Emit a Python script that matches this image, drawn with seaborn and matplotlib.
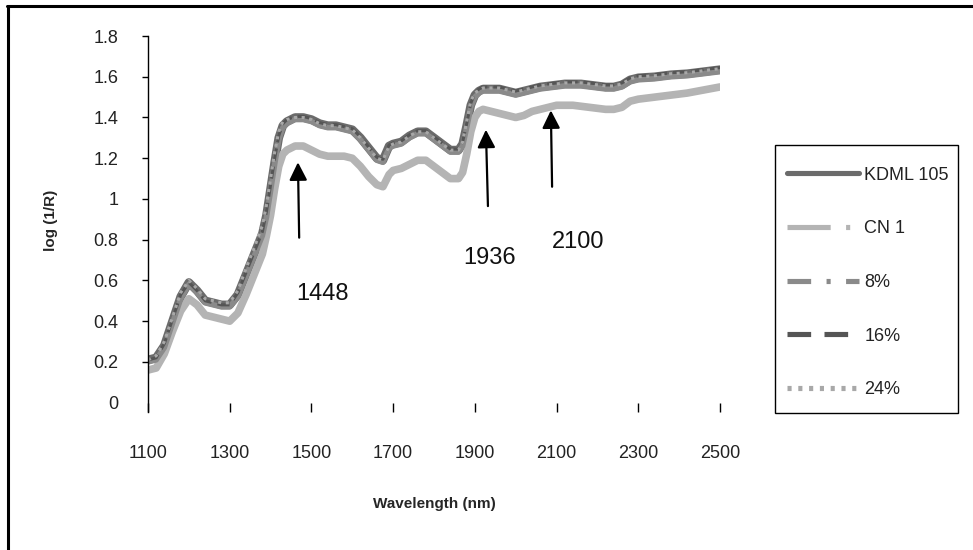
"""
NIR spectra of rice samples: log(1/R) against wavelength, pure varieties and mixtures.
"""
import numpy as np
import pandas as pd
import matplotlib
matplotlib.use("Agg")
import matplotlib.pyplot as plt
from matplotlib.lines import Line2D
from matplotlib.patches import Rectangle
import seaborn as sns

# wavelength grid (nm)
wavelength = [1100, 1120, 1140, 1160, 1180, 1200, 1220, 1240, 1260, 1280,
              1300, 1320, 1340, 1360, 1380, 1390, 1400, 1410, 1420, 1430,
              1440, 1460, 1480, 1500, 1520, 1540, 1560, 1580, 1600, 1620,
              1640, 1660, 1675, 1690, 1700, 1720, 1740, 1760, 1780, 1800,
              1820, 1840, 1860, 1870, 1880, 1890, 1900, 1910, 1920, 1940,
              1960, 1980, 2000, 2020, 2040, 2060, 2080, 2100, 2120, 2140,
              2160, 2180, 2200, 2220, 2240, 2260, 2280, 2300, 2340, 2380,
              2420, 2460, 2500]

kdml105 = [0.21, 0.22, 0.28, 0.40, 0.52, 0.59, 0.55, 0.50, 0.49, 0.48,
           0.48, 0.53, 0.63, 0.73, 0.83, 0.92, 1.05, 1.18, 1.30, 1.36,
           1.38, 1.40, 1.40, 1.39, 1.37, 1.36, 1.36, 1.35, 1.34, 1.30,
           1.25, 1.20, 1.19, 1.26, 1.27, 1.28, 1.31, 1.33, 1.33, 1.30,
           1.27, 1.24, 1.24, 1.27, 1.36, 1.46, 1.51, 1.53, 1.54, 1.54,
           1.54, 1.53, 1.52, 1.53, 1.54, 1.55, 1.555, 1.56, 1.565, 1.565,
           1.565, 1.56, 1.555, 1.55, 1.55, 1.56, 1.585, 1.595, 1.60, 1.61,
           1.615, 1.625, 1.635]

cn1 = [0.16, 0.17, 0.24, 0.35, 0.45, 0.51, 0.48, 0.43, 0.42, 0.41,
       0.40, 0.44, 0.53, 0.63, 0.73, 0.82, 0.92, 1.05, 1.16, 1.22,
       1.24, 1.26, 1.26, 1.24, 1.22, 1.21, 1.21, 1.21, 1.20, 1.16,
       1.11, 1.07, 1.06, 1.12, 1.14, 1.15, 1.17, 1.19, 1.19, 1.16,
       1.13, 1.10, 1.10, 1.13, 1.22, 1.33, 1.40, 1.43, 1.44, 1.43,
       1.42, 1.41, 1.40, 1.41, 1.43, 1.44, 1.45, 1.46, 1.46, 1.46,
       1.455, 1.45, 1.445, 1.44, 1.44, 1.45, 1.48, 1.49, 1.50, 1.51,
       1.52, 1.535, 1.55]

mix8 = [0.20, 0.21, 0.27, 0.39, 0.51, 0.58, 0.54, 0.49, 0.48, 0.47,
        0.47, 0.52, 0.62, 0.72, 0.82, 0.91, 1.04, 1.17, 1.29, 1.35,
        1.37, 1.39, 1.39, 1.38, 1.36, 1.35, 1.35, 1.34, 1.33, 1.29,
        1.24, 1.19, 1.18, 1.25, 1.26, 1.27, 1.30, 1.32, 1.32, 1.29,
        1.26, 1.23, 1.23, 1.26, 1.35, 1.45, 1.50, 1.52, 1.53, 1.53,
        1.53, 1.52, 1.51, 1.52, 1.53, 1.54, 1.545, 1.55, 1.555, 1.555,
        1.555, 1.55, 1.545, 1.54, 1.54, 1.55, 1.575, 1.585, 1.59, 1.60,
        1.605, 1.615, 1.625]

mix16 = [0.21, 0.22, 0.29, 0.41, 0.53, 0.59, 0.55, 0.50, 0.49, 0.48,
         0.48, 0.54, 0.64, 0.74, 0.84, 0.94, 1.07, 1.20, 1.31, 1.37,
         1.39, 1.405, 1.405, 1.395, 1.375, 1.365, 1.365, 1.355, 1.345, 1.305,
         1.255, 1.205, 1.195, 1.265, 1.275, 1.285, 1.315, 1.335, 1.335, 1.305,
         1.275, 1.245, 1.245, 1.28, 1.37, 1.47, 1.52, 1.54, 1.55, 1.55,
         1.55, 1.54, 1.53, 1.54, 1.55, 1.56, 1.565, 1.57, 1.575, 1.575,
         1.575, 1.57, 1.565, 1.56, 1.56, 1.57, 1.595, 1.605, 1.61, 1.62,
         1.625, 1.635, 1.645]

mix24 = [0.21, 0.23, 0.30, 0.42, 0.54, 0.60, 0.56, 0.51, 0.50, 0.49,
         0.49, 0.55, 0.66, 0.76, 0.87, 0.97, 1.10, 1.23, 1.33, 1.38,
         1.39, 1.40, 1.40, 1.39, 1.37, 1.36, 1.36, 1.35, 1.34, 1.30,
         1.25, 1.20, 1.19, 1.26, 1.27, 1.28, 1.31, 1.33, 1.33, 1.30,
         1.27, 1.24, 1.24, 1.28, 1.38, 1.48, 1.52, 1.535, 1.545, 1.545,
         1.545, 1.535, 1.525, 1.535, 1.545, 1.555, 1.56, 1.565, 1.57, 1.57,
         1.57, 1.565, 1.56, 1.555, 1.555, 1.565, 1.59, 1.60, 1.605, 1.615,
         1.62, 1.63, 1.64]

series_names = ["KDML 105", "CN 1", "8%", "16%", "24%"]
series_values = [kdml105, cn1, mix8, mix16, mix24]
series_colors = ["#6b6b6b", "#b4b4b4", "#8a8a8a", "#555555", "#a8a8a8"]
# in the chart the dense data make most patterns look solid
plot_styles = ["-", "-", "-", (0, (4, 2)), (0, (1, 1.5))]
plot_widths = [6.2, 5.5, 4.0, 2.2, 2.2]
# patterns as shown in the legend
legend_styles = ["-", (0, (8.4, 3, 0.8, 3)), (0, (4.6, 3, 0.8, 3)),
                 (0, (4.6, 2.6)), (0, (0.8, 1.3))]

# annotated absorption bands: label, arrow tip, arrow tail, label position
band_labels = ["1448", "1936", "2100"]
band_tips = [(1467, 1.18), (1927, 1.34), (2086, 1.435)]
band_tails = [(1470, 0.81), (1932, 0.965), (2089, 1.06)]
band_text_pos = [(1526, 0.535), (1937, 0.71), (2152, 0.79)]

y_ticks = [0, 0.2, 0.4, 0.6, 0.8, 1.0, 1.2, 1.4, 1.6, 1.8]
y_ticklabels = ["0", "0.2", "0.4", "0.6", "0.8", "1", "1.2", "1.4", "1.6", "1.8"]
x_ticks = [1100, 1300, 1500, 1700, 1900, 2100, 2300, 2500]

sns.set_style("white")
plt.rcParams['font.family'] = ['Liberation Sans', 'DejaVu Sans']

fig = plt.figure(figsize=(9.73, 5.5), dpi=100)
ax = fig.add_axes([0.1521, 0.2509, 0.5879, 0.6836])

for name, vals, col, ls, lw in zip(series_names, series_values, series_colors,
                                   plot_styles, plot_widths):
    df = pd.DataFrame({"Wavelength": wavelength, "logR": vals})
    sns.lineplot(data=df, x="Wavelength", y="logR", ax=ax, color=col,
                 linewidth=lw, linestyle=ls, legend=False)

for lab, tip, tail, tpos in zip(band_labels, band_tips, band_tails, band_text_pos):
    ax.annotate("", xy=tip, xytext=tail,
                arrowprops=dict(arrowstyle="-|>", color="black", lw=1.6,
                                mutation_scale=27, shrinkA=0, shrinkB=0))
    ax.text(tpos[0], tpos[1], lab, fontsize=17, ha="center", va="center", color="#111111")

ax.set_xlim(1100, 2500)
ax.set_ylim(-0.046, 1.8)
ax.set_xticks(x_ticks)
ax.set_yticks(y_ticks)
ax.set_yticklabels(y_ticklabels)

for side in ["top", "right", "bottom"]:
    ax.spines[side].set_visible(False)
ax.spines["left"].set_color("black")
ax.spines["left"].set_linewidth(1.0)

ax.tick_params(axis="y", direction="out", length=4.5, width=1, color="black",
               pad=17, labelsize=13, labelcolor="#222222", left=True)
ax.tick_params(axis="x", direction="in", length=6.5, width=1, color="black",
               pad=24, labelsize=13, labelcolor="#222222", bottom=True)
ax.yaxis.get_major_ticks()[0].tick1line.set_visible(False)

ax.set_xlabel("Wavelength (nm)", fontsize=11, fontweight="bold")
ax.set_ylabel("log (1/R)", fontsize=11, fontweight="bold")
ax.xaxis.set_label_coords(0.5, -0.225)
ax.yaxis.set_label_coords(-0.158, 0.51)

handles = [Line2D([0], [0], color=c, lw=3.7, linestyle=s)
           for c, s in zip(series_colors, legend_styles)]
leg = ax.legend(handles, series_names, loc="upper left",
                bbox_to_anchor=(783 / 973, 1 - 163 / 550),
                bbox_transform=fig.transFigure, frameon=False,
                fontsize=13, handlelength=4.0, handletextpad=0.3,
                labelspacing=2.03, borderpad=0.2, borderaxespad=0)
for t in leg.get_texts():
    t.set_color("#222222")

# legend frame drawn as in the original
fig.add_artist(Rectangle((775 / 973, 1 - 413 / 550), 183 / 973, 268 / 550,
                         transform=fig.transFigure, fill=False,
                         edgecolor="black", lw=1.0))

# outer frame of the original figure (top and left edges only)
fig.add_artist(Line2D([7 / 973, 1.0], [1 - 6 / 550, 1 - 6 / 550],
                      transform=fig.transFigure, color="black", lw=2.2))
fig.add_artist(Line2D([8 / 973, 8 / 973], [0.0, 1 - 6 / 550],
                      transform=fig.transFigure, color="black", lw=2.2))

fig.savefig("out.png", dpi=100)
